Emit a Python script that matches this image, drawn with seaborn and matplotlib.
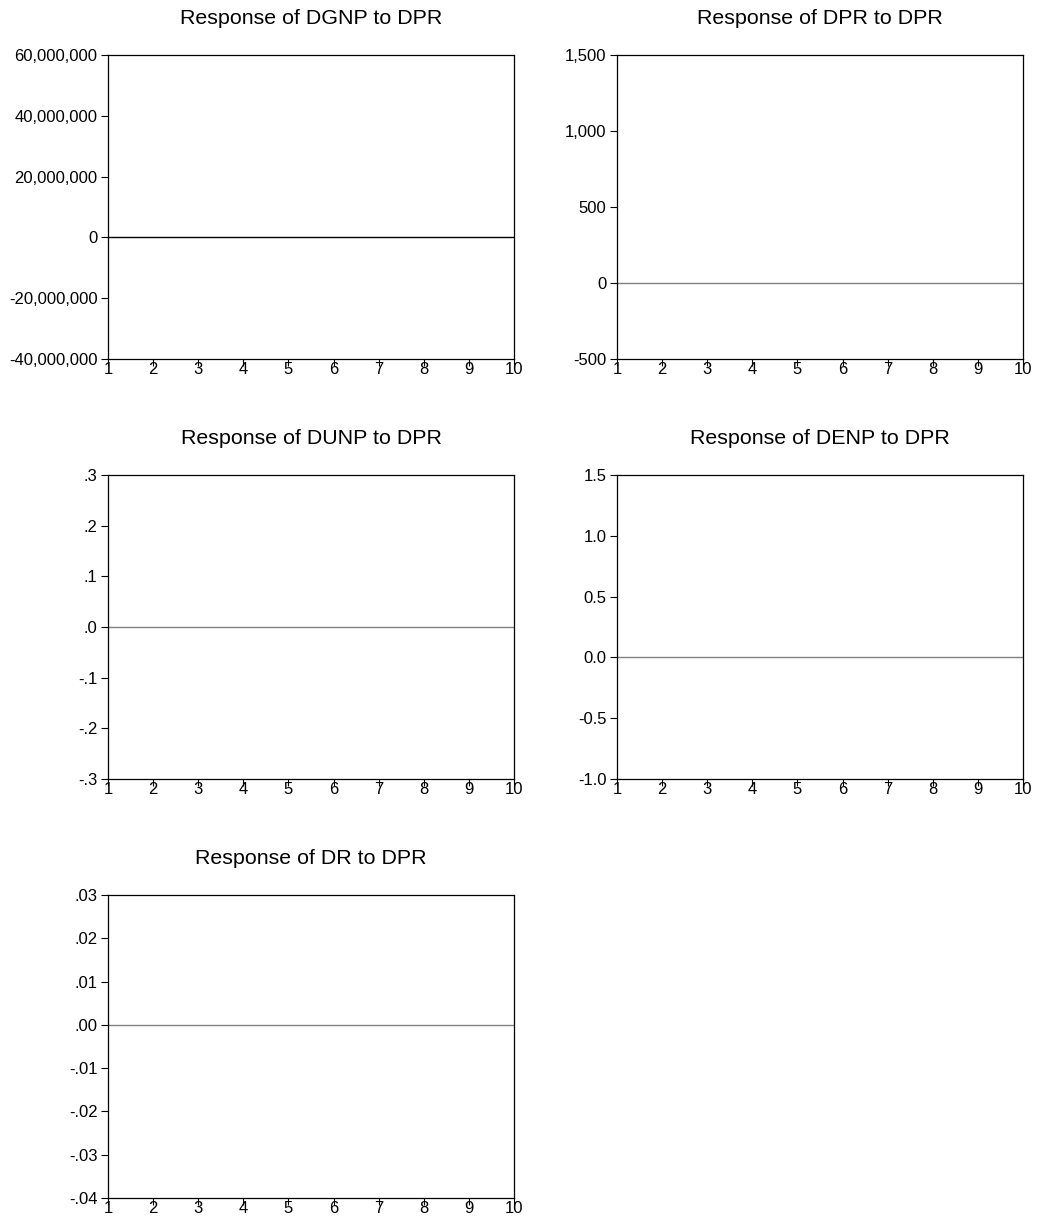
import matplotlib
matplotlib.use("Agg")
import matplotlib.pyplot as plt
import seaborn as sns
import pandas as pd
from matplotlib.ticker import FuncFormatter

sns.set_theme(style="white")
plt.rcParams['font.family'] = ['Liberation Sans', 'DejaVu Sans']

periods = [1, 2, 3, 4, 5, 6, 7, 8, 9, 10]
titles = ["Response of DGNP to DPR", "Response of DPR to DPR",
          "Response of DUNP to DPR", "Response of DENP to DPR",
          "Response of DR to DPR"]
resp_dgnp = [0, 0, 0, 0, 0, 0, 0, 0, 0, 0]
resp_dpr = [0, 0, 0, 0, 0, 0, 0, 0, 0, 0]
resp_dunp = [0, 0, 0, 0, 0, 0, 0, 0, 0, 0]
resp_denp = [0, 0, 0, 0, 0, 0, 0, 0, 0, 0]
resp_dr = [0, 0, 0, 0, 0, 0, 0, 0, 0, 0]
yticks_dgnp = [-40000000, -20000000, 0, 20000000, 40000000, 60000000]
yticks_dpr = [-500, 0, 500, 1000, 1500]
yticks_dunp = [-0.3, -0.2, -0.1, 0.0, 0.1, 0.2, 0.3]
yticks_denp = [-1.0, -0.5, 0.0, 0.5, 1.0, 1.5]
yticks_dr = [-0.04, -0.03, -0.02, -0.01, 0.00, 0.01, 0.02, 0.03]


def comma_fmt(v, p):
    return f"{v:,.0f}"


def nolead(dec):
    def f(v, p):
        s = f"{v:.{dec}f}"
        if s.startswith("-0."):
            s = "-" + s[2:]
        elif s.startswith("0."):
            s = s[1:]
        return s
    return f


def onedec(v, p):
    return f"{v:.1f}"


series = [resp_dgnp, resp_dpr, resp_dunp, resp_denp, resp_dr]
yticks = [yticks_dgnp, yticks_dpr, yticks_dunp, yticks_denp, yticks_dr]
fmts = [comma_fmt, comma_fmt, nolead(1), onedec, nolead(2)]
line_colors = ["#000000", "#808080", "#808080", "#808080", "#808080"]

W, H = 1037, 1228
fig = plt.figure(figsize=(W / 100, H / 100), dpi=100)
fig.patch.set_facecolor("white")

# pixel boxes (left, top, right, bottom)
boxes = [(108, 55, 514, 359), (617, 55, 1023, 359),
         (108, 475, 514, 779), (617, 475, 1023, 779),
         (108, 895, 514, 1198)]

for i in range(5):
    l, t, r, b = boxes[i]
    ax = fig.add_axes([l / W, 1 - b / H, (r - l) / W, (b - t) / H])
    df = pd.DataFrame({"period": periods, "response": series[i]})
    sns.lineplot(data=df, x="period", y="response", ax=ax,
                 color=line_colors[i], linewidth=1.0)
    ax.set_xlim(1, 10)
    ax.set_ylim(yticks[i][0], yticks[i][-1])
    ax.set_xticks(periods)
    ax.set_yticks(yticks[i])
    ax.yaxis.set_major_formatter(FuncFormatter(fmts[i]))
    ax.set_xlabel("")
    ax.set_ylabel("")
    ax.set_title(titles[i], fontsize=15.4, pad=22, color="black")
    for s in ax.spines.values():
        s.set_visible(True)
        s.set_color("black")
        s.set_linewidth(0.9)
    ax.tick_params(axis="y", which="both", left=True, direction="out",
                   length=5, width=0.8, pad=2.5, labelsize=12, colors="black")
    ax.tick_params(axis="x", which="both", bottom=True, direction="out",
                   length=5, width=0.8, pad=-3, labelsize=12, colors="black")
    ax.grid(False)
    ax.set_facecolor("white")

fig.savefig("out.png", dpi=100, facecolor="white")
